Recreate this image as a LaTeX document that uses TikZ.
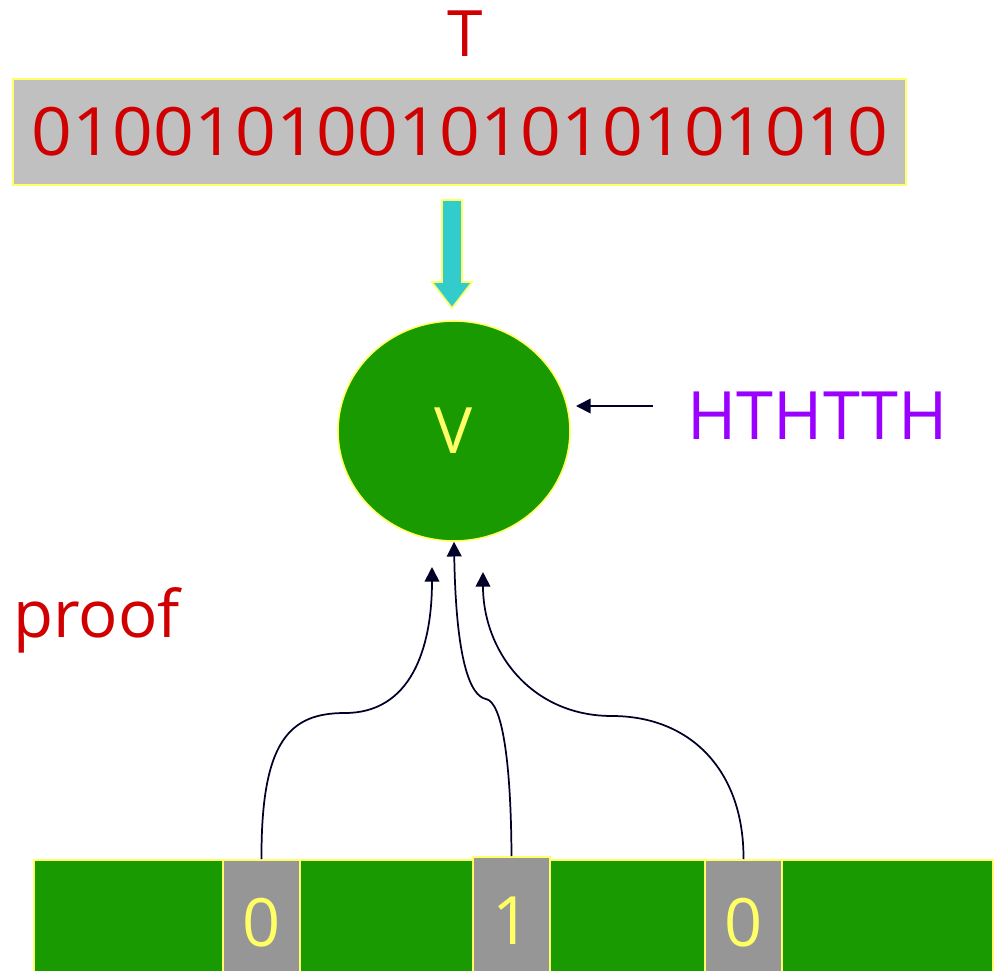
\documentclass[tikz,border=0pt]{standalone}
\usepackage{fontspec}
\setmainfont{Open Sans}
\usetikzlibrary{arrows.meta,shapes.geometric}

\definecolor{txtred}{RGB}{208,0,0}
\definecolor{edgeyellow}{RGB}{255,255,102}
\definecolor{boxgray}{RGB}{192,192,192}
\definecolor{cellgray}{RGB}{150,150,150}
\definecolor{tapegreen}{RGB}{24,154,0}
\definecolor{pipecyan}{RGB}{51,204,204}
\definecolor{coinpurple}{RGB}{153,0,255}
\definecolor{linkink}{RGB}{0,0,40}

\tikzset{
  outl/.style={draw=edgeyellow, line width=1.5pt},
  bigtext/.style={font=\fontsize{48}{52}\selectfont},
  bitcell/.style={outl, fill=cellgray, inner sep=0pt, minimum width=57.75pt,
    text=edgeyellow, font=\fontsize{50}{54}\selectfont},
  link/.style={draw=linkink, line width=1.3pt,
    -{Triangle[length=11pt,width=11pt]}},
}

\begin{document}
\begin{tikzpicture}[x=0.75pt,y=-0.75pt]
\useasboundingbox (0,0) rectangle (1001,971);
\clip (0,0) rectangle (1001,971);

% theorem statement
\node[text=txtred, bigtext, inner sep=0pt] (tlabel) at (465,34) {T};
\node[outl, fill=boxgray, inner sep=0pt, minimum width=669.75pt,
      minimum height=79.5pt, text=txtred, font=\fontsize{50}{54}\selectfont]
      (bits) at (459.5,132)
      {\scalebox{1.07}[1]{010010100101010101010}};

% thick input arrow into the verifier
\draw[outl, line width=1.2pt, fill=pipecyan]
  (442,200) -- (462,200) -- (462,282) -- (472,282) -- (452,308)
  -- (432,282) -- (442,282) -- cycle;

% verifier
\node[ellipse, outl, line width=1.2pt, fill=tapegreen, inner sep=0pt,
      minimum width=174pt, minimum height=165pt, text=edgeyellow, bigtext]
      (v) at (454,431) {V};

% random coins
\node[text=coinpurple, font=\fontsize{50}{54}\selectfont, inner sep=0pt]
      (coins) at (817.5,415.5) {HTHTTH};
\coordinate (coinsout) at (653,406);
\coordinate (vright) at (576,406);
\draw[link] (coinsout) -- (vright);

% proof label
\node[text=txtred, font=\fontsize{49}{53}\selectfont, inner sep=0pt,
      anchor=base west] (prooflbl) at (13,637) {proof};

% proof tape
\node[outl, fill=tapegreen, inner sep=0pt, minimum width=719.25pt,
      minimum height=93.75pt] (tape) at (513.5,922.5) {};
\node[bitcell, minimum height=93.75pt] (c1) at (261.5,922.5) {0};
\node[bitcell, minimum height=96pt] (c2) at (511.5,921) {1};
\node[bitcell, minimum height=93.75pt] (c3) at (743.5,922.5) {0};

% queried positions
\coordinate (q1) at (432,567);
\coordinate (q3) at (483,572);
\draw[link] (c1.north) .. controls (261,740) and (290,713) .. (345,713)
  .. controls (410,713) and (432,650) .. (q1);
\draw[link] (c2.north) .. controls (511,760) and (502,702) .. (486,699)
  .. controls (470,696) and (456,660) .. (v.south);
\draw[link] (c3.north) .. controls (744,770) and (690,716) .. (612,716)
  .. controls (530,716) and (483,650) .. (q3);
\end{tikzpicture}
\end{document}
